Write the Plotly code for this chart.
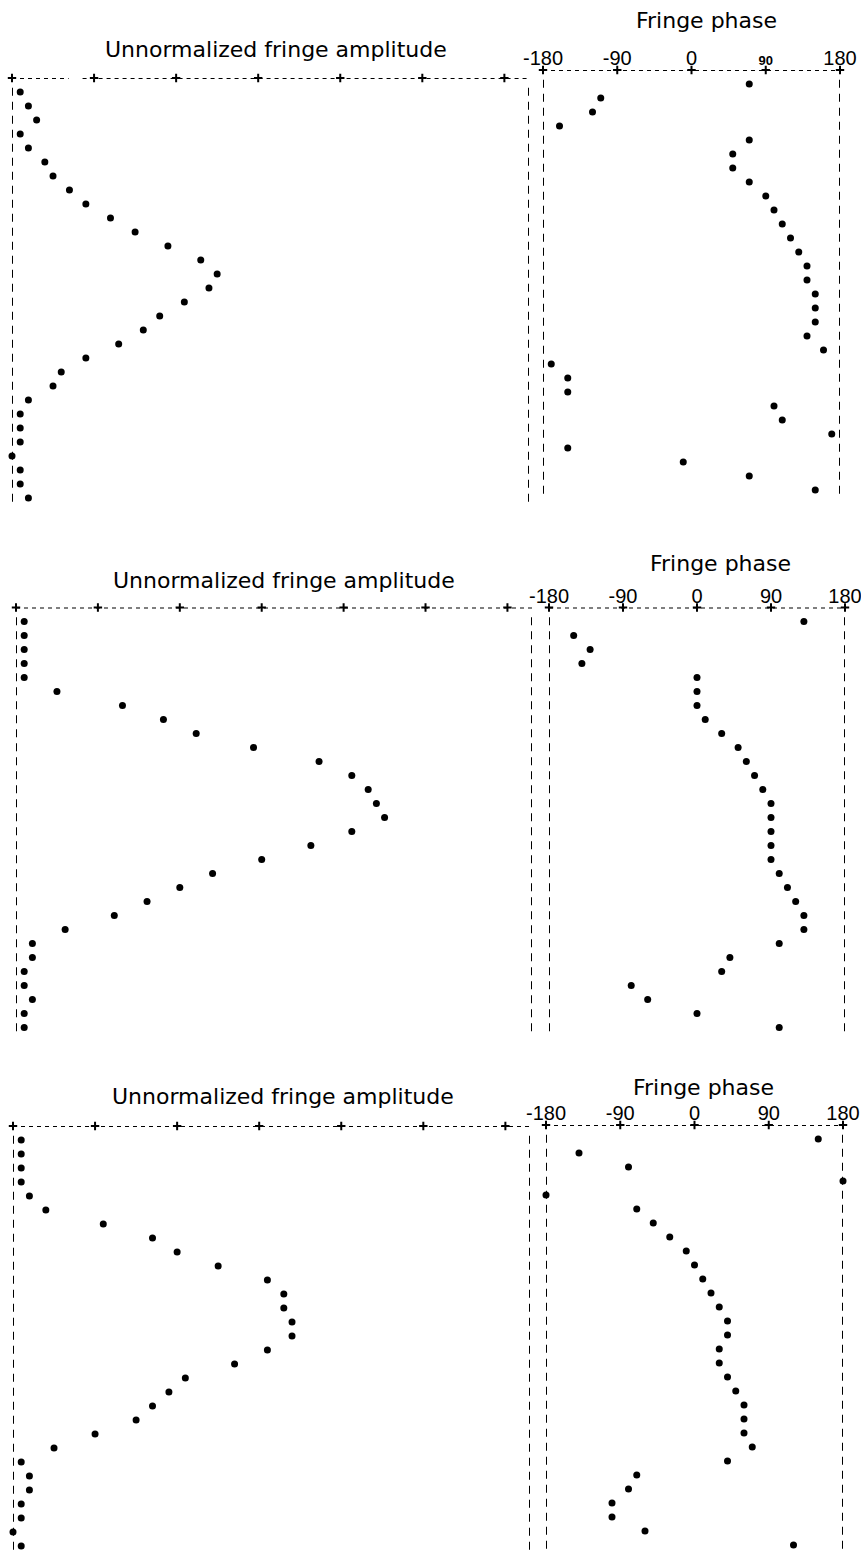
import plotly.graph_objects as go

# ---------------- data ----------------
ROWS = list(range(30))  # consecutive samples, top to bottom

# unnormalized fringe amplitude (arbitrary units = printer columns)
AMP_1 = [1, 2, 3, 1, 2, 4, 5, 7, 9, 12, 15, 19, 23, 25, 24, 21, 18, 16, 13, 9,
         6, 5, 2, 1, 1, 1, 0, 1, 1, 2]
AMP_2 = [1, 1, 1, 1, 1, 5, 13, 18, 22, 29, 37, 41, 43, 44, 45, 41, 36, 30, 24, 20,
         16, 12, 6, 2, 2, 1, 1, 2, 1, 1]
AMP_3 = [1, 1, 1, 1, 2, 4, 11, 17, 20, 25, 31, 33, 33, 34, 34, 31, 27, 21, 19, 17,
         15, 10, 5, 1, 2, 2, 1, 1, 0, 1]

# fringe phase (degrees)
PHASE_1 = [70, -110, -120, -160, 70, 50, 50, 70, 90, 100, 110, 120, 130, 140, 140,
           150, 150, 150, 140, 160, -170, -150, -150, 100, 110, 170, -150, -10, 70, 150]
PHASE_2 = [130, -150, -130, -140, 0, 0, 0, 10, 30, 50, 60, 70, 80, 90, 90,
           90, 90, 90, 100, 110, 120, 130, 130, 100, 40, 30, -80, -60, 0, 100]
PHASE_3 = [150, -140, -80, 180, -180, -70, -50, -30, -10, 0, 10, 20, 30, 40, 40,
           30, 30, 40, 50, 60, 60, 60, 70, 40, -70, -80, -100, -100, -60, 120]

PHASE_TICKS = [-180, -90, 0, 90, 180]
PHASE_TICKTEXT_1 = ["-180", "-90", "0",
                    '<span style="font-size:13px"><b>90</b></span>', "180"]
PHASE_TICKTEXT = ["-180", "-90", "0", "90", "180"]
AMP_MARKS = [0, 10, 20, 30, 40, 50, 60]

AMP_TITLE = "Unnormalized fringe amplitude"
PHASE_TITLE = "Fringe phase"

# ---------------- layout (pixels) ----------------
W, H = 861, 1552
AMP_MAX = 63
ROW_PX = 14.0
ROW_BOTTOM = 29.4

PANELS = [
    dict(amp=AMP_1, ph=PHASE_1, ticktext=PHASE_TICKTEXT_1,
         ax0=12, ax1=529, px0=543, px1=840, arow0=92, prow0=84,
         amp_title=(276, 50), ph_title=(706, 21), top_gap=(6.9, 8.6)),
    dict(amp=AMP_2, ph=PHASE_2, ticktext=PHASE_TICKTEXT,
         ax0=16, ax1=532, px0=549, px1=845, arow0=621.5, prow0=621.5,
         amp_title=(284, 580), ph_title=(720, 563), top_gap=None),
    dict(amp=AMP_3, ph=PHASE_3, ticktext=PHASE_TICKTEXT,
         ax0=13, ax1=530, px0=546, px1=843, arow0=1140, prow0=1139,
         amp_title=(283, 1096), ph_title=(703, 1087), top_gap=None),
]

TITLE_FONT = dict(family="DejaVu Sans", size=22, color="black")
TICK_FONT = dict(family="Liberation Sans", size=20, color="black")
H_DASH = "4px,4px"
V_DASH = "8px,6px"
LINE_W = 2
DOT_SIZE = 7

fig = go.Figure()
shapes = []
annotations = []
layout_axes = {}


def xdom(a, b):
    return [a / W, b / W]


def ydom(row0):
    top = row0 - ROW_PX                 # row -1 (top line)
    bottom = row0 + ROW_BOTTOM * ROW_PX
    return [max(0.0, 1 - bottom / H), min(1.0, 1 - top / H)]


def hline(xref, yref, x0, x1, y):
    shapes.append(dict(type="line", xref=xref, yref=yref, x0=x0, x1=x1, y0=y, y1=y,
                       line=dict(color="black", width=LINE_W, dash=H_DASH)))


def vline(xref, yref, x, y0, y1):
    shapes.append(dict(type="line", xref=xref, yref=yref, x0=x, x1=x, y0=y0, y1=y1,
                       line=dict(color="black", width=LINE_W, dash=V_DASH)))


for i, p in enumerate(PANELS):
    na, nph = 2 * i + 1, 2 * i + 2
    xa, ya = f"x{na}", f"y{na}"
    xp, yp = f"x{nph}", f"y{nph}"

    # amplitude axes
    layout_axes[f"xaxis{na}"] = dict(domain=xdom(p["ax0"], p["ax1"]), range=[0, AMP_MAX],
                                     anchor=ya, visible=False, automargin=False)
    layout_axes[f"yaxis{na}"] = dict(domain=ydom(p["arow0"]), range=[ROW_BOTTOM, -1],
                                     anchor=xa, visible=False, automargin=False)
    # phase axes
    layout_axes[f"xaxis{nph}"] = dict(domain=xdom(p["px0"], p["px1"]), range=[-180, 180],
                                      anchor=yp, side="top", showgrid=False,
                                      zeroline=False, showline=False, ticks="",
                                      tickmode="array", tickvals=PHASE_TICKS,
                                      ticktext=p["ticktext"], tickfont=TICK_FONT,
                                      ticklabelstandoff=0, ticklabeloverflow="allow",
                                      automargin=False)
    layout_axes[f"yaxis{nph}"] = dict(domain=ydom(p["prow0"]), range=[ROW_BOTTOM, -1],
                                      anchor=xp, visible=False, automargin=False)

    # frames: dashed top line ('-' characters), 'I' columns at the sides
    if p["top_gap"]:
        hline(xa, ya, 0, p["top_gap"][0], -1)
        hline(xa, ya, p["top_gap"][1], AMP_MAX, -1)
    else:
        hline(xa, ya, 0, AMP_MAX, -1)
    vline(xa, ya, 0, -0.3, 29.3)
    vline(xa, ya, AMP_MAX, -0.3, 29.3)
    hline(xp, yp, -180, 180, -1)
    vline(xp, yp, -180, -0.3, 29.3)
    vline(xp, yp, 180, -0.3, 29.3)

    # '+' marks on the top lines
    fig.add_trace(go.Scatter(x=AMP_MARKS, y=[-1] * len(AMP_MARKS), xaxis=xa, yaxis=ya,
                             mode="markers", cliponaxis=False, hoverinfo="skip",
                             marker=dict(symbol="cross-thin", size=6,
                                         line=dict(color="black", width=2))))
    fig.add_trace(go.Scatter(x=PHASE_TICKS, y=[-1] * len(PHASE_TICKS), xaxis=xp, yaxis=yp,
                             mode="markers", cliponaxis=False, hoverinfo="skip",
                             marker=dict(symbol="cross-thin", size=6,
                                         line=dict(color="black", width=2))))

    # data
    fig.add_trace(go.Scatter(x=p["amp"], y=ROWS, xaxis=xa, yaxis=ya, mode="markers",
                             cliponaxis=False, name="amplitude",
                             marker=dict(symbol="circle", size=DOT_SIZE, color="black")))
    fig.add_trace(go.Scatter(x=p["ph"], y=ROWS, xaxis=xp, yaxis=yp, mode="markers",
                             cliponaxis=False, name="phase",
                             marker=dict(symbol="circle", size=DOT_SIZE, color="black")))

    # titles
    for txt, (tx, ty) in ((AMP_TITLE, p["amp_title"]), (PHASE_TITLE, p["ph_title"])):
        annotations.append(dict(text=txt, xref="paper", yref="paper",
                                x=tx / W, y=1 - ty / H, xanchor="center",
                                yanchor="middle", showarrow=False, font=TITLE_FONT))

fig.update_layout(
    width=W, height=H,
    margin=dict(l=0, r=0, t=0, b=0, autoexpand=False),
    paper_bgcolor="white", plot_bgcolor="white",
    showlegend=False,
    shapes=shapes, annotations=annotations,
    font=dict(family="DejaVu Sans", color="black"),
    **layout_axes,
)

# remove the browser's default 8px page margin so the figure fills the window
fig.write_html("out.html",
               config={"displayModeBar": False},
               post_script="document.body.style.margin='0';"
                           "document.body.style.overflow='hidden';")
